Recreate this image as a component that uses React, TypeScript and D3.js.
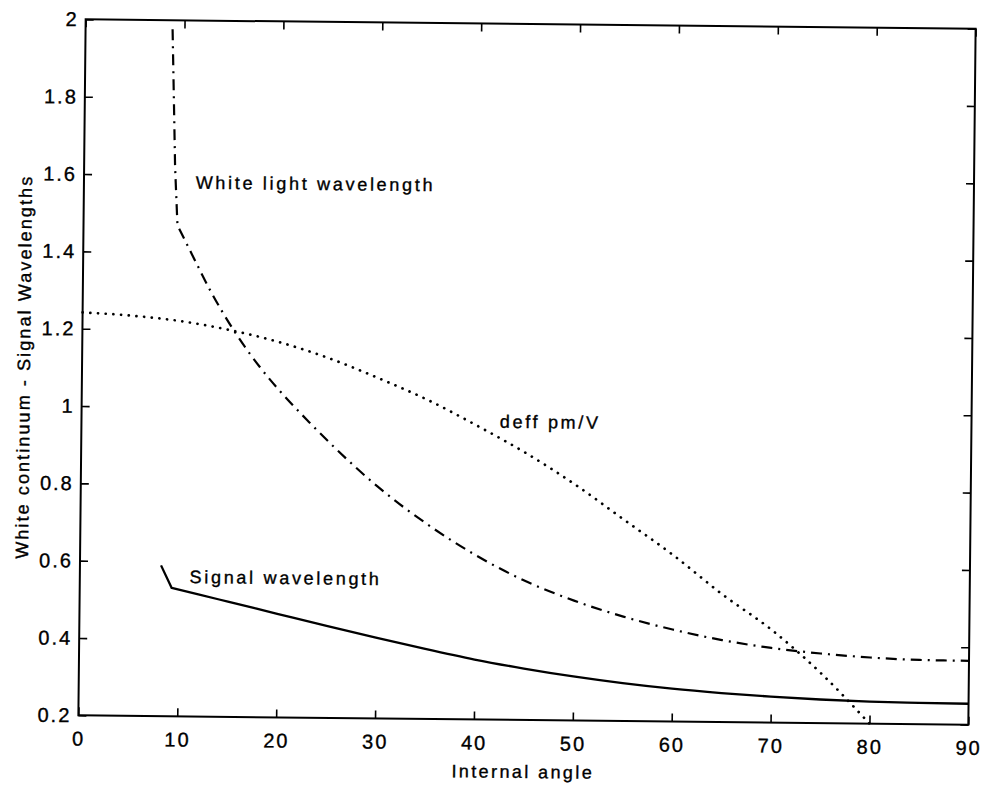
import React, { useEffect, useRef } from "react";
import * as d3 from "d3";

// values
const xTicks = [0, 10, 20, 30, 40, 50, 60, 70, 80, 90];
const yTicks = [0.2, 0.4, 0.6, 0.8, 1, 1.2, 1.4, 1.6, 1.8, 2];

const signalAngle = [8.2, 9.3, 12, 15, 20, 25, 30, 35, 40, 45, 50, 55, 60, 65, 70, 75, 80, 85, 90];
const signalValue = [0.59, 0.532, 0.516, 0.498, 0.468, 0.438, 0.409, 0.381, 0.355, 0.333, 0.314, 0.298, 0.285, 0.275, 0.267, 0.261, 0.257, 0.255, 0.254];
const signalKink = 1;

const whiteAngle = [8.8, 9.0, 9.2, 9.5, 11, 13, 15.3, 18, 20, 23, 25.6, 30, 35, 40, 45, 50, 55, 60, 65, 70, 75, 80, 85, 90];
const whiteValue = [1.977, 1.8, 1.62, 1.47, 1.395, 1.297, 1.2, 1.105, 1.045, 0.965, 0.9, 0.8, 0.705, 0.625, 0.56, 0.51, 0.47, 0.438, 0.412, 0.393, 0.38, 0.371, 0.366, 0.365];
const whiteKink = 3;

const deffAngle = [0, 5, 10, 15, 20, 25, 30, 35, 40, 45, 50, 55, 60, 65, 70, 75, 80];
const deffValue = [1.242, 1.235, 1.222, 1.2, 1.17, 1.13, 1.08, 1.025, 0.96, 0.89, 0.81, 0.72, 0.63, 0.53, 0.44, 0.33, 0.2];

const labels = [
  { text: "White light wavelength", angle: 11.3, value: 1.565 },
  { text: "Signal wavelength", angle: 11.1, value: 0.545 },
  { text: "deff pm/V", angle: 42.3, value: 0.955 },
];

const FONT = "'Liberation Sans', Arial, Helvetica, sans-serif";

export default function App() {
  const ref = useRef<SVGSVGElement>(null);

  useEffect(() => {
    const width = 983, height = 790,
      margin = { top: 24, right: 11, bottom: 70, left: 82 };
    const svg = d3.select(ref.current);
    svg.selectAll("*").remove();

    // the scan is tilted a little
    const g = svg.append("g").attr("transform", "rotate(0.6, 527, 372)");

    const x = d3.scaleLinear().domain([0, 90]).range([margin.left, width - margin.right]);
    const y = d3.scaleLinear().domain([0.2, 2]).range([height - margin.bottom, margin.top]);

    const inkText = (sel: any, size: number, spacing: number) =>
      sel.attr("fill", "#000").attr("stroke", "#000").attr("stroke-width", 0.35)
        .style("font-family", FONT).style("font-size", `${size}px`).style("letter-spacing", `${spacing}px`);

    const styleAxis = (sel: any) => {
      sel.select(".domain").remove();
      sel.selectAll("line").attr("stroke", "#000").attr("stroke-width", 1.6);
      inkText(sel.selectAll("text"), 20, 2);
    };

    g.append("g").attr("transform", `translate(0,${y(0.2)})`)
      .call(d3.axisBottom(x).tickValues(xTicks).tickSize(-8).tickSizeOuter(0).tickPadding(16).tickFormat(d3.format("d")))
      .call(styleAxis);
    g.append("g").attr("transform", `translate(0,${y(2)})`)
      .call(d3.axisTop(x).tickValues(xTicks).tickSize(-8).tickSizeOuter(0).tickFormat(() => ""))
      .call(styleAxis);
    g.append("g").attr("transform", `translate(${x(0)},0)`)
      .call(d3.axisLeft(y).tickValues(yTicks).tickSize(-8).tickSizeOuter(0).tickPadding(7).tickFormat(d3.format("~g")))
      .call(styleAxis);
    g.append("g").attr("transform", `translate(${x(90)},0)`)
      .call(d3.axisRight(y).tickValues(yTicks).tickSize(-8).tickSizeOuter(0).tickFormat(() => ""))
      .call(styleAxis);

    g.append("rect").attr("x", x(0)).attr("y", y(2))
      .attr("width", x(90) - x(0)).attr("height", y(0.2) - y(2))
      .attr("fill", "none").attr("stroke", "#000").attr("stroke-width", 2);

    // straight head up to the kink, smooth body after it, as one path
    const makePath = (xs: number[], ys: number[], kink: number) => {
      const pts: [number, number][] = xs.map((a, i) => [x(a), y(ys[i])]);
      const head = d3.line().curve(d3.curveLinear)(pts.slice(0, kink + 1)) || "";
      const body = d3.line().curve(d3.curveMonotoneX)(pts.slice(kink)) || "";
      return head + body.replace(/^M[^A-Za-z]*/, "");
    };

    g.append("path").attr("d", makePath(signalAngle, signalValue, signalKink))
      .attr("fill", "none").attr("stroke", "#000").attr("stroke-width", 2.3);

    g.append("path").attr("d", makePath(whiteAngle, whiteValue, whiteKink))
      .attr("fill", "none").attr("stroke", "#000").attr("stroke-width", 2.2)
      .attr("stroke-dasharray", "11 6 2 6");

    g.append("path").attr("d", makePath(deffAngle, deffValue, 0))
      .attr("fill", "none").attr("stroke", "#000").attr("stroke-width", 2.7)
      .attr("stroke-linecap", "round").attr("stroke-dasharray", "0.1 7.6");

    g.selectAll(".note").data(labels).join("text").attr("class", "note")
      .attr("x", d => x(d.angle)).attr("y", d => y(d.value))
      .call(inkText, 18, 2.7).text(d => d.text);

    g.append("text").attr("x", (x(0) + x(90)) / 2).attr("y", 778)
      .attr("text-anchor", "middle").call(inkText, 18, 2.4)
      .text("Internal angle");

    g.append("text").attr("transform", `translate(30,${(y(0.2) + y(2)) / 2}) rotate(-90)`)
      .attr("text-anchor", "middle").call(inkText, 18, 2.1)
      .text("White continuum - Signal Wavelengths");
  }, []);

  return (
    <svg ref={ref} width={983} height={790}
      style={{ position: "absolute", left: 0, top: 0, background: "#fff" }} />
  );
}
